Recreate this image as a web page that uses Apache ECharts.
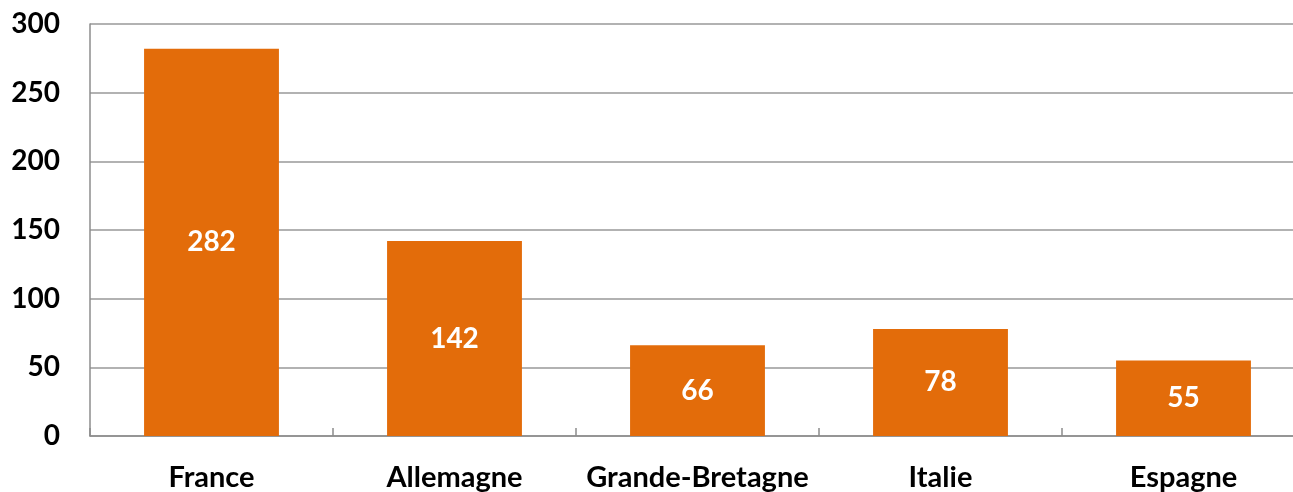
<!DOCTYPE html>
<html>
<head>
<meta charset="utf-8">
<script src="https://cdn.jsdelivr.net/npm/echarts@6/dist/echarts.min.js"></script>
<style>
  html, body { margin: 0; padding: 0; background: #fff; }
  #chart { width: 1293px; height: 492px; }
</style>
</head>
<body>
<div id="chart"></div>
<script>
const countries = ["France", "Allemagne", "Grande-Bretagne", "Italie", "Espagne"];
const values = [282, 142, 66, 78, 55];
const yTicks = [0, 50, 100, 150, 200, 250, 300];

const myChart = echarts.init(document.getElementById("chart"));
const font = "Lato, 'Open Sans', sans-serif";

const option = {
  animation: false,
  grid: {
    left: 90,
    right: -12,
    top: 24,
    bottom: 56,
    outerBoundsMode: "none",
  },
  xAxis: {
    type: "category",
    data: countries,
    axisLine: { lineStyle: { color: "#8c8c8c", width: 1.5 } },
    axisTick: {
      show: true,
      inside: true,
      length: 8,
      lineStyle: { color: "#8c8c8c", width: 1.5 },
    },
    axisLabel: {
      color: "#000",
      fontSize: 29,
      fontWeight: "bold",
      fontFamily: font,
      margin: 27,
      interval: 0,
    },
  },
  yAxis: {
    type: "value",
    min: yTicks[0],
    max: yTicks[yTicks.length - 1],
    interval: 50,
    axisLine: { show: true, lineStyle: { color: "#8c8c8c", width: 1.5 } },
    axisTick: { show: false },
    splitLine: { lineStyle: { color: "#999", width: 1.5 } },
    axisLabel: {
      color: "#000",
      fontSize: 28,
      fontWeight: "bold",
      fontFamily: font,
      margin: 30,
    },
  },
  series: [
    {
      type: "bar",
      data: values,
      barWidth: "55.5%",
      itemStyle: { color: "#E36C0A" },
      label: {
        show: true,
        position: "inside",
        color: "#fff",
        fontSize: 28,
        fontWeight: "bold",
        fontFamily: font,
      },
    },
  ],
};
myChart.setOption(option);
</script>
</body>
</html>
